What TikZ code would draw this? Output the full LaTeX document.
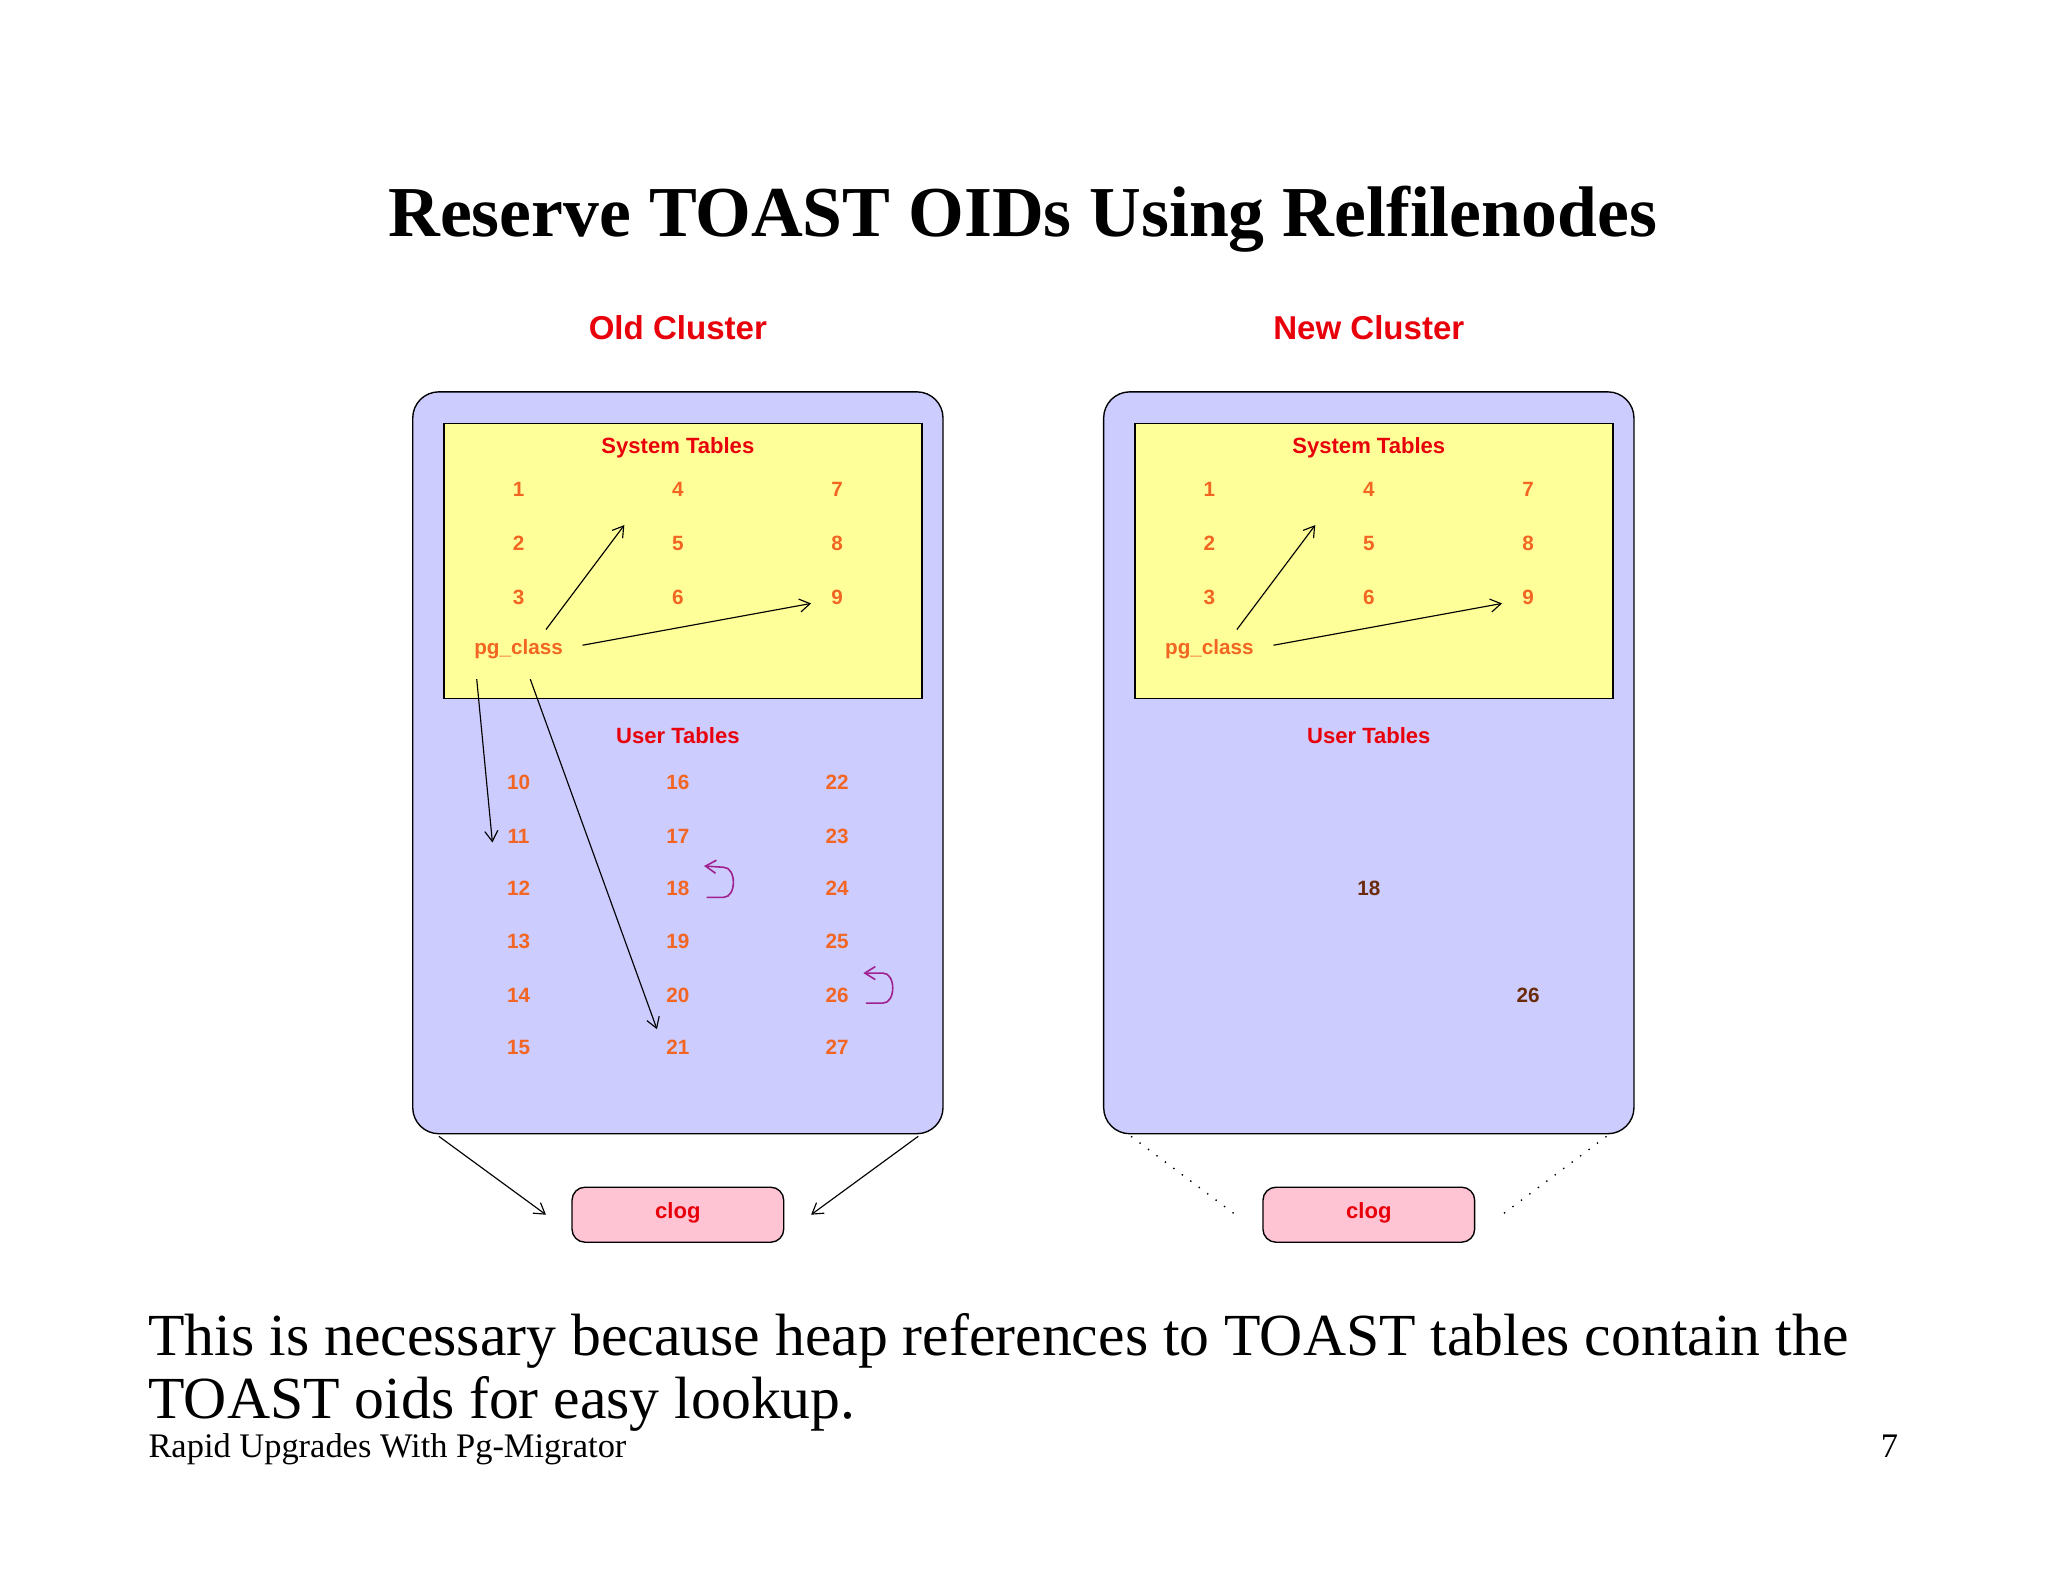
\documentclass[tikz,border=0pt]{standalone}
\usepackage{fontspec}
\setmainfont{Liberation Serif}
\setsansfont{Liberation Sans}
\usetikzlibrary{arrows.meta}
\definecolor{clus}{HTML}{CCCCFF}
\definecolor{sysy}{HTML}{FFFF99}
\definecolor{numo}{HTML}{F26522}
\definecolor{redt}{HTML}{E8000B}
\definecolor{pinkb}{HTML}{FFC4D4}
\definecolor{brownt}{HTML}{6B2A0A}
\definecolor{purp}{HTML}{A0208F}
\tikzset{
 clusterbox/.style={draw=black,line width=0.3pt,fill=clus,rounded corners=0.2cm},
 sysbox/.style={draw=black,line width=0.3pt,fill=sysy},
 clogbox/.style={draw=black,line width=0.3pt,fill=pinkb,rounded corners=0.1cm,minimum width=1.62cm,minimum height=0.4cm,font=\sffamily\bfseries\fontsize{4.8}{5}\selectfont,text=redt},
 head/.style={font=\sffamily\bfseries\fontsize{7.2}{8}\selectfont,text=redt},
 sub/.style={font=\sffamily\bfseries\fontsize{4.8}{5}\selectfont,text=redt},
 num/.style={font=\sffamily\bfseries\fontsize{4.5}{5}\selectfont,text=numo,inner sep=0.5pt},
 numb/.style={font=\sffamily\bfseries\fontsize{4.5}{5}\selectfont,text=brownt,inner sep=0.5pt},
 arr/.style={line width=0.25pt,-{Straight Barb[length=0.8mm,width=1mm]}},
 curl/.style={line width=0.35pt,draw=purp,-{Straight Barb[length=0.8mm,width=1mm]}},
}
\begin{document}
\begin{tikzpicture}[x=0.01cm,y=-0.01cm]
\useasboundingbox[fill=white] (0,0) rectangle (1568,1211);
\node[font=\bfseries\fontsize{15.6}{18}\selectfont] (title) at (783,168) {Reserve TOAST OIDs Using Relfilenodes};
\foreach \ox/\nm/\lab in {0/L/Old Cluster,529/R/New Cluster}{
 \node[head] (head\nm) at (519+\ox,251) {\lab};
 \draw[clusterbox] (316+\ox,300) rectangle (722+\ox,868);
 \draw[sysbox] (340+\ox,324) rectangle (706+\ox,535);
 \node[sub] (sys\nm) at (519+\ox,343) {System Tables};
 \node[sub] (usr\nm) at (519+\ox,563) {User Tables};
 \node[clogbox,text depth=0.4ex] (clog\nm) at (519+\ox,930) {clog};
 \node[num] (pg\nm) at (397+\ox,497) {pg\_class};
 \foreach \c [count=\i from 0] in {397,519,641}{
  \foreach \r [count=\j from 1] in {375,416,457}{
   \pgfmathtruncatemacro{\v}{\i*3+\j}
   \node[num] (s\nm\v) at (\c+\ox,\r) {\v};
  }}
 \coordinate (a\nm1) at (418+\ox,482); \coordinate (a\nm2) at (478+\ox,402);
 \coordinate (b\nm1) at (446+\ox,494); \coordinate (b\nm2) at (621+\ox,462);
 \draw[arr] (a\nm1) -- (a\nm2);
 \draw[arr] (b\nm1) -- (b\nm2);
}
\foreach \c [count=\i from 0] in {397,519,641}{
 \foreach \r [count=\j from 0] in {599,640,680,721,762,802}{
  \pgfmathtruncatemacro{\v}{10+\i*6+\j}
  \node[num] (u\v) at (\c,\r) {\v};
 }}
\node[numb] (n18) at (1048,680) {18};
\node[numb] (n26) at (1170,762) {26};
\coordinate (c1) at (365,520); \coordinate (c2) at (377,645);
\coordinate (d1) at (406,520); \coordinate (d2) at (503,788);
\draw[arr] (c1) -- (c2);
\draw[arr] (d1) -- (d2);
\coordinate (e1) at (541,687); \coordinate (e2) at (539,663);
\draw[curl] (e1) -- (554,687) .. controls (564,687) and (564,664) .. (554,664) -- (e2);
\coordinate (f1) at (663,768); \coordinate (f2) at (661,745);
\draw[curl] (f1) -- (676,768) .. controls (686,768) and (686,745) .. (676,745) -- (f2);
\coordinate (g1) at (336,870); \coordinate (g2) at (418,930);
\coordinate (h1) at (703,870); \coordinate (h2) at (621,930);
\draw[arr] (g1) -- (g2);
\draw[arr] (h1) -- (h2);
\coordinate (i1) at (866,870); \coordinate (i2) at (946,930);
\coordinate (j1) at (1230,870); \coordinate (j2) at (1150,930);
\draw[line width=0.3pt,dotted] (i1) -- (i2);
\draw[line width=0.3pt,dotted] (j1) -- (j2);
\node[anchor=base west,inner sep=0,font=\fontsize{13}{14}\selectfont] (t1) at (113,1038) {This is necessary because heap references to TOAST tables contain the};
\node[anchor=base west,inner sep=0,font=\fontsize{13}{14}\selectfont] (t2) at (113,1086) {TOAST oids for easy lookup.};
\node[anchor=base west,inner sep=0,font=\fontsize{7.5}{8}\selectfont] (foot) at (113,1116) {Rapid Upgrades With Pg-Migrator};
\node[anchor=base east,inner sep=0,font=\fontsize{7.5}{8}\selectfont] (page) at (1454,1116) {7};
\end{tikzpicture}
\end{document}
